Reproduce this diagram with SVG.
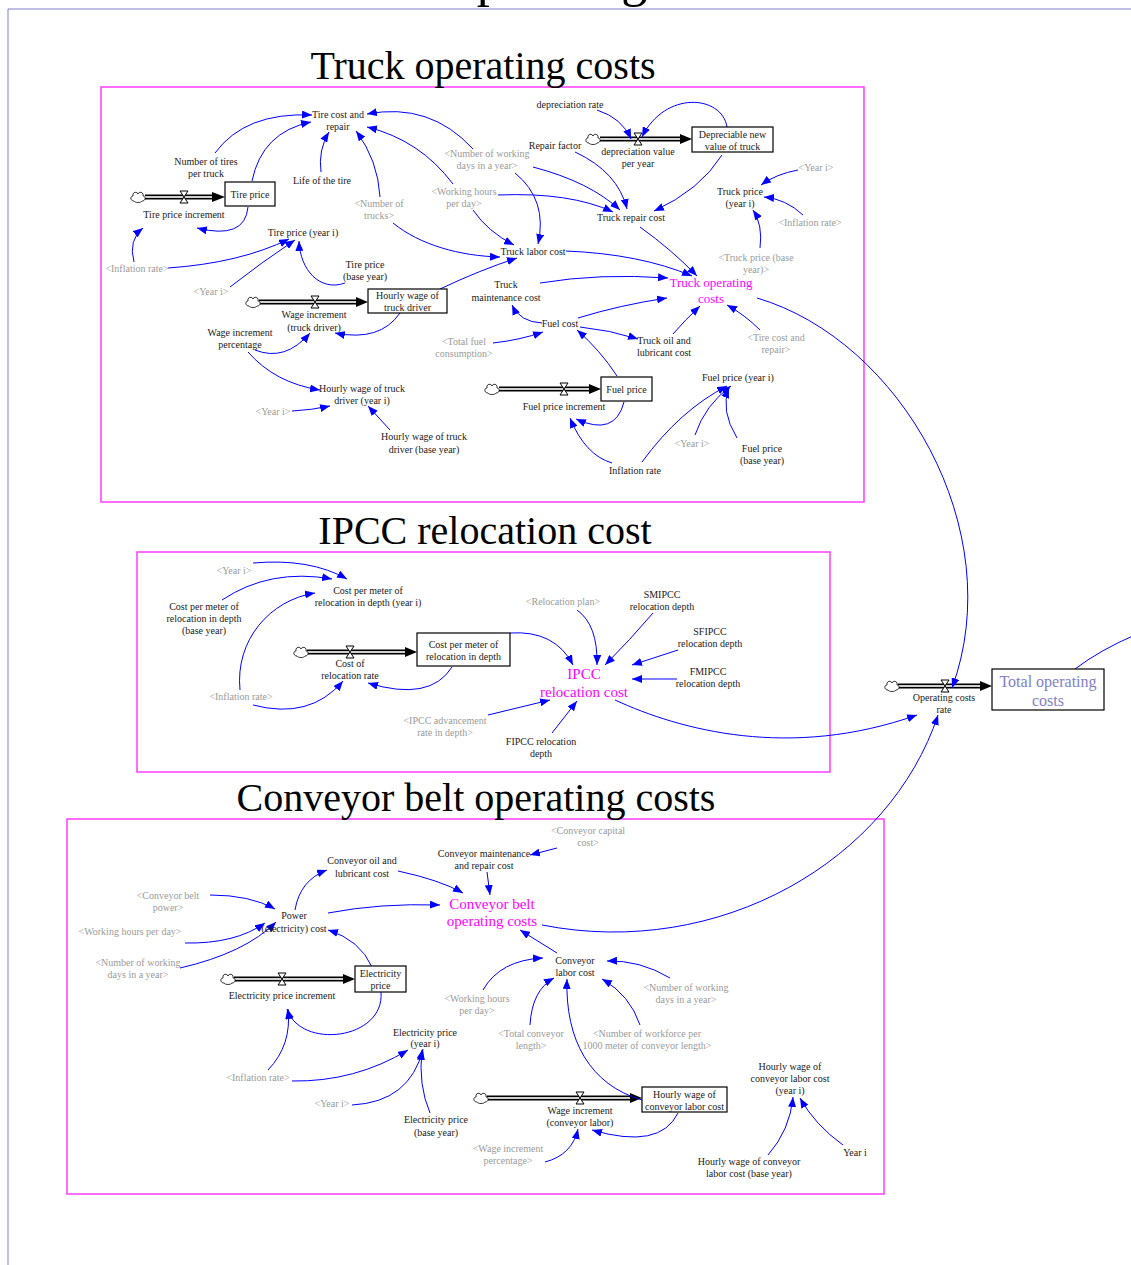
<svg xmlns="http://www.w3.org/2000/svg" xmlns:xlink="http://www.w3.org/1999/xlink" width="1131" height="1265" viewBox="0 0 1131 1265">
<style>
  text { font-family: "Liberation Serif", "Times New Roman", serif; text-anchor: middle; }
  .lbl { font-size: 10px; fill: #1a1a1a; }
  .shd { font-size: 10px; fill: #9a9a9a; }
  .key { font-size: 15px; fill: #ff00ff; }
  .ttl { font-size: 40px; fill: #000; }
  .cn { fill: none; stroke: #0000ff; stroke-width: 1; marker-end: url(#ah); }
  .frame { fill: none; stroke: #ff3cff; stroke-width: 1.5; }
  .box { fill: #fff; stroke: #000; stroke-width: 1.2; }
  .po { stroke: #000; stroke-width: 5; }
  .pi { stroke: #cfcfcf; stroke-width: 2.2; }
  .ph { fill: #000; }
</style>
<defs>
  <marker id="ah" viewBox="0 0 10 8" refX="10" refY="4" markerWidth="10" markerHeight="8" markerUnits="userSpaceOnUse" orient="auto">
    <path d="M0,0 L10,4 L0,8 Z" fill="#0000ff"/>
  </marker>
  <path id="cloud" d="M-4,4 C-8,4 -8,-1 -5,-1 C-6,-5 -1,-6 0,-3 C1,-6 6,-5 5,-1 C8,-1 8,4 4,4 C3,6 -3,6 -4,4 Z" fill="#fff" stroke="#000" stroke-width="0.8"/>
  <path id="valve" d="M-4,-6 H4 L-4,6 H4 Z" fill="#fff" stroke="#000" stroke-width="1"/>
</defs>

<rect x="0" y="0" width="1131" height="1265" fill="#fff"/>

<!-- page border and the heading that runs off the top edge -->
<g id="page">
  <path d="M8,9 H1131 M8,9 V1265" fill="none" stroke="#8080c8" stroke-width="1"/>
  <text x="549" y="-4" style="font-size:52px;fill:#000">operating</text>
</g>

<!-- section frames and titles -->
<g id="sections">
  <rect class="frame" x="101" y="87" width="763" height="415"/>
  <text class="ttl" x="483" y="79">Truck operating costs</text>
  <rect class="frame" x="137" y="552" width="693" height="220"/>
  <text class="ttl" x="485" y="544">IPCC relocation cost</text>
  <rect class="frame" x="67" y="819" width="817" height="375"/>
  <text class="ttl" x="476" y="811">Conveyor belt operating costs</text>
</g>

<!-- stock-and-flow pipes -->
<g id="flows">
  <line class="po" x1="145" y1="197" x2="213" y2="197"/><line class="pi" x1="145" y1="197" x2="213" y2="197"/><path class="ph" d="M212,192 L225,197 L212,202 Z"/>
  <line class="po" x1="600" y1="139" x2="681" y2="139"/><line class="pi" x1="600" y1="139" x2="681" y2="139"/><path class="ph" d="M680,134 L692,139 L680,144 Z"/>
  <line class="po" x1="259" y1="302" x2="357" y2="302"/><line class="pi" x1="259" y1="302" x2="357" y2="302"/><path class="ph" d="M356,297 L368,302 L356,307 Z"/>
  <line class="po" x1="499" y1="389" x2="590" y2="389"/><line class="pi" x1="499" y1="389" x2="590" y2="389"/><path class="ph" d="M589,384 L601,389 L589,394 Z"/>
  <line class="po" x1="307" y1="652" x2="406" y2="652"/><line class="pi" x1="307" y1="652" x2="406" y2="652"/><path class="ph" d="M405,647 L417,652 L405,657 Z"/>
  <line class="po" x1="898" y1="686" x2="981" y2="686"/><line class="pi" x1="898" y1="686" x2="981" y2="686"/><path class="ph" d="M980,681 L992,686 L980,691 Z"/>
  <line class="po" x1="234" y1="979" x2="344" y2="979"/><line class="pi" x1="234" y1="979" x2="344" y2="979"/><path class="ph" d="M343,974 L355,979 L343,984 Z"/>
  <line class="po" x1="487" y1="1098" x2="631" y2="1098"/><line class="pi" x1="487" y1="1098" x2="631" y2="1098"/><path class="ph" d="M630,1093 L642,1098 L630,1103 Z"/>
  <use xlink:href="#cloud" href="#cloud" x="138" y="197"/>
  <use xlink:href="#cloud" href="#cloud" x="593" y="139"/>
  <use xlink:href="#cloud" href="#cloud" x="253" y="302"/>
  <use xlink:href="#cloud" href="#cloud" x="492" y="389"/>
  <use xlink:href="#cloud" href="#cloud" x="301" y="652"/>
  <use xlink:href="#cloud" href="#cloud" x="892" y="686"/>
  <use xlink:href="#cloud" href="#cloud" x="228" y="979"/>
  <use xlink:href="#cloud" href="#cloud" x="481" y="1098"/>
</g>

<!-- causal links -->
<g id="connectors">
  <path class="cn" d="M215,153 Q245,112 312,115"/>
  <path class="cn" d="M252,181 Q262,132 311,122"/>
  <path class="cn" d="M321,172 Q318,150 329,132"/>
  <path class="cn" d="M380,197 Q378,160 356,131"/>
  <path class="cn" d="M473,149 Q430,102 367,114"/>
  <path class="cn" d="M453,184 Q420,140 367,127"/>
  <path class="cn" d="M248,207 Q245,240 197,228"/>
  <path class="cn" d="M134,262 Q128,240 143,228"/>
  <path class="cn" d="M168,268 Q240,263 289,239"/>
  <path class="cn" d="M230,287 Q262,262 295,240"/>
  <path class="cn" d="M345,283 C320,292 300,270 299,241"/>
  <path class="cn" d="M393,223 C420,245 460,256 500,257"/>
  <path class="cn" d="M515,173 Q548,200 538,244"/>
  <path class="cn" d="M473,210 Q488,232 514,245"/>
  <path class="cn" d="M533,167 Q590,182 620,210"/>
  <path class="cn" d="M498,195 Q570,192 613,212"/>
  <path class="cn" d="M575,152 Q618,172 627,209"/>
  <path class="cn" d="M597,110 Q622,118 631,139"/>
  <path class="cn" d="M727,127 C722,95 665,90 642,137"/>
  <path class="cn" d="M722,155 Q700,190 654,211"/>
  <path class="cn" d="M798,170 Q776,174 761,185"/>
  <path class="cn" d="M803,215 Q786,199 764,197"/>
  <path class="cn" d="M760,248 Q763,225 753,210"/>
  <path class="cn" d="M566,251 Q640,254 692,276"/>
  <path class="cn" d="M640,227 Q672,250 697,276"/>
  <path class="cn" d="M540,283 Q600,273 668,278"/>
  <path class="cn" d="M578,318 Q620,305 667,298"/>
  <path class="cn" d="M542,323 Q520,322 512,305"/>
  <path class="cn" d="M580,327 Q610,330 638,339"/>
  <path class="cn" d="M673,334 Q685,320 700,306"/>
  <path class="cn" d="M760,330 Q745,315 727,305"/>
  <path class="cn" d="M493,343 Q520,340 543,332"/>
  <path class="cn" d="M617,376 Q600,350 577,330"/>
  <path class="cn" d="M624,402 Q615,437 576,419"/>
  <path class="cn" d="M612,463 Q585,455 570,418"/>
  <path class="cn" d="M642,462 Q680,410 727,386"/>
  <path class="cn" d="M695,435 Q705,405 731,386"/>
  <path class="cn" d="M737,438 Q720,410 729,388"/>
  <path class="cn" d="M440,289 Q480,270 517,258"/>
  <path class="cn" d="M400,313 Q380,342 335,333"/>
  <path class="cn" d="M255,350 Q285,362 310,333"/>
  <path class="cn" d="M248,352 Q275,383 320,390"/>
  <path class="cn" d="M292,411 Q312,410 330,406"/>
  <path class="cn" d="M390,430 L368,406"/>
  <path class="cn" d="M757,298 C900,340 1010,530 952,688"/>

  <path class="cn" d="M253,563 Q310,558 347,579"/>
  <path class="cn" d="M222,600 Q270,568 332,579"/>
  <path class="cn" d="M240,690 C235,640 270,600 315,593"/>
  <path class="cn" d="M253,705 Q310,720 343,681"/>
  <path class="cn" d="M452,667 Q430,702 368,683"/>
  <path class="cn" d="M510,633 Q555,630 573,665"/>
  <path class="cn" d="M577,610 Q598,625 597,665"/>
  <path class="cn" d="M653,613 Q630,640 605,665"/>
  <path class="cn" d="M678,650 L632,665"/>
  <path class="cn" d="M677,679 L632,679"/>
  <path class="cn" d="M488,715 L550,700"/>
  <path class="cn" d="M552,733 L577,701"/>
  <path class="cn" d="M615,700 C680,730 790,760 917,715"/>

  <path class="cn" d="M557,848 L530,855"/>
  <path class="cn" d="M487,872 L490,895"/>
  <path class="cn" d="M398,871 Q440,880 463,893"/>
  <path class="cn" d="M328,913 Q380,903 440,905"/>
  <path class="cn" d="M295,910 Q300,880 327,870"/>
  <path class="cn" d="M210,895 Q250,895 275,909"/>
  <path class="cn" d="M185,943 Q235,944 265,923"/>
  <path class="cn" d="M180,968 Q245,953 276,922"/>
  <path class="cn" d="M372,967 Q360,940 328,930"/>
  <path class="cn" d="M381,992 C385,1040 300,1050 287,1009"/>
  <path class="cn" d="M268,1070 Q292,1045 288,1009"/>
  <path class="cn" d="M292,1081 Q355,1082 408,1050"/>
  <path class="cn" d="M352,1105 Q410,1102 423,1049"/>
  <path class="cn" d="M430,1113 Q418,1085 422,1050"/>
  <path class="cn" d="M557,953 L520,930"/>
  <path class="cn" d="M483,990 Q500,960 543,958"/>
  <path class="cn" d="M670,978 Q640,960 607,961"/>
  <path class="cn" d="M530,1025 Q532,990 554,978"/>
  <path class="cn" d="M640,1025 Q630,995 602,979"/>
  <path class="cn" d="M642,1100 C590,1085 565,1040 567,979"/>
  <path class="cn" d="M678,1113 Q660,1150 592,1130"/>
  <path class="cn" d="M545,1162 Q572,1155 578,1129"/>
  <path class="cn" d="M768,1155 Q790,1130 793,1097"/>
  <path class="cn" d="M843,1145 Q815,1125 800,1098"/>
  <path class="cn" d="M542,925 C720,960 890,860 938,715"/>
  <path d="M1075,669 Q1100,650 1135,635" fill="none" stroke="#0000ff" stroke-width="1"/>
</g>

<!-- truck operating costs -->
<g id="tire-cost-and-repair"><text class="lbl" x="338" y="118">Tire cost and<tspan x="338" y="130">repair</tspan></text></g>
<g id="number-of-tires"><text class="lbl" x="206" y="165">Number of tires<tspan x="206" y="177">per truck</tspan></text></g>
<g id="tire-price"><rect class="box" x="225" y="182" width="50" height="24"/><text class="lbl" x="250" y="197.5">Tire price</text></g>
<g id="tire-price-increment"><use xlink:href="#valve" href="#valve" x="184" y="197"/><text class="lbl" x="184" y="217.5">Tire price increment</text></g>
<g id="life-of-tire"><text class="lbl" x="322" y="183.5">Life of the tire</text></g>
<g id="number-of-trucks-ref"><text class="shd" x="379" y="207">&lt;Number of<tspan x="379" y="219">trucks&gt;</tspan></text></g>
<g id="tire-price-year-i"><text class="lbl" x="303" y="235.5">Tire price (year i)</text></g>
<g id="inflation-ref-1"><text class="shd" x="137" y="271.5">&lt;Inflation rate&gt;</text></g>
<g id="year-ref-1"><text class="shd" x="211" y="294.5">&lt;Year i&gt;</text></g>
<g id="tire-price-base"><text class="lbl" x="365" y="268">Tire price<tspan x="365" y="280">(base year)</tspan></text></g>
<g id="working-days-ref-1"><text class="shd" x="487" y="157">&lt;Number of working<tspan x="487" y="169">days in a year&gt;</tspan></text></g>
<g id="working-hours-ref-1"><text class="shd" x="464" y="195">&lt;Working hours<tspan x="464" y="207">per day&gt;</tspan></text></g>
<g id="depreciation-rate"><text class="lbl" x="570" y="107.5">depreciation rate</text></g>
<g id="repair-factor"><text class="lbl" x="555" y="148.5">Repair factor</text></g>
<g id="depreciation-value"><use xlink:href="#valve" href="#valve" x="638" y="139"/><text class="lbl" x="638" y="155">depreciation value<tspan x="638" y="167">per year</tspan></text></g>
<g id="depreciable-new-value"><rect class="box" x="692" y="127" width="81" height="25"/><text class="lbl" x="732.5" y="138">Depreciable new<tspan x="732.5" y="150">value of truck</tspan></text></g>
<g id="truck-repair-cost"><text class="lbl" x="631" y="220.5">Truck repair cost</text></g>
<g id="year-ref-2"><text class="shd" x="816" y="170.5">&lt;Year i&gt;</text></g>
<g id="truck-price-year-i"><text class="lbl" x="740" y="195">Truck price<tspan x="740" y="207">(year i)</tspan></text></g>
<g id="inflation-ref-2"><text class="shd" x="810" y="225.5">&lt;Inflation rate&gt;</text></g>
<g id="truck-price-base-ref"><text class="shd" x="756" y="260.5">&lt;Truck price (base<tspan x="756" y="272.5">year)&gt;</tspan></text></g>
<g id="truck-labor-cost"><text class="lbl" x="533" y="254.5">Truck labor cost</text></g>
<g id="truck-operating-costs"><text class="key" x="711" y="287" style="font-size:13px">Truck operating<tspan x="711" y="303">costs</tspan></text></g>
<g id="truck-maintenance-cost"><text class="lbl" x="506" y="288">Truck<tspan x="506" y="300.5">maintenance cost</tspan></text></g>
<g id="hourly-wage-truck"><rect class="box" x="368" y="289" width="79" height="24"/><text class="lbl" x="407.5" y="299">Hourly wage of<tspan x="407.5" y="311">truck driver</tspan></text></g>
<g id="wage-increment-truck"><use xlink:href="#valve" href="#valve" x="315" y="302"/><text class="lbl" x="314" y="318">Wage increment<tspan x="314" y="331">(truck driver)</tspan></text></g>
<g id="wage-increment-percentage"><text class="lbl" x="240" y="336">Wage increment<tspan x="240" y="348">percentage</tspan></text></g>
<g id="total-fuel-ref"><text class="shd" x="464" y="345">&lt;Total fuel<tspan x="464" y="357">consumption&gt;</tspan></text></g>
<g id="fuel-cost"><text class="lbl" x="560" y="327">Fuel cost</text></g>
<g id="truck-oil-lubricant"><text class="lbl" x="664" y="344">Truck oil and<tspan x="664" y="356">lubricant cost</tspan></text></g>
<g id="tire-cost-ref"><text class="shd" x="776" y="341">&lt;Tire cost and<tspan x="776" y="353">repair&gt;</tspan></text></g>
<g id="fuel-price-year-i"><text class="lbl" x="738" y="381">Fuel price (year i)</text></g>
<g id="fuel-price"><rect class="box" x="601" y="377" width="51" height="24"/><text class="lbl" x="626.5" y="393">Fuel price</text></g>
<g id="fuel-price-increment"><use xlink:href="#valve" href="#valve" x="564" y="389"/><text class="lbl" x="564" y="410">Fuel price increment</text></g>
<g id="hourly-wage-truck-year-i"><text class="lbl" x="362" y="392">Hourly wage of truck<tspan x="362" y="404">driver (year i)</tspan></text></g>
<g id="year-ref-3"><text class="shd" x="273" y="415">&lt;Year i&gt;</text></g>
<g id="hourly-wage-truck-base"><text class="lbl" x="424" y="440">Hourly wage of truck<tspan x="424" y="453">driver (base year)</tspan></text></g>
<g id="year-ref-4"><text class="shd" x="692" y="447">&lt;Year i&gt;</text></g>
<g id="fuel-price-base"><text class="lbl" x="762" y="451.5">Fuel price<tspan x="762" y="463.5">(base year)</tspan></text></g>
<g id="inflation-rate"><text class="lbl" x="635" y="474">Inflation rate</text></g>

<!-- IPCC relocation cost -->
<g id="year-ref-5"><text class="shd" x="234" y="574">&lt;Year i&gt;</text></g>
<g id="cost-per-meter-year-i"><text class="lbl" x="368" y="594">Cost per meter of<tspan x="368" y="606">relocation in depth (year i)</tspan></text></g>
<g id="cost-per-meter-base"><text class="lbl" x="204" y="610">Cost per meter of<tspan x="204" y="622">relocation in depth</tspan><tspan x="204" y="634">(base year)</tspan></text></g>
<g id="cost-per-meter"><rect class="box" x="417" y="633" width="93" height="33"/><text class="lbl" x="463.5" y="648">Cost per meter of<tspan x="463.5" y="660">relocation in depth</tspan></text></g>
<g id="cost-of-relocation-rate"><use xlink:href="#valve" href="#valve" x="350" y="652"/><text class="lbl" x="350" y="667">Cost of<tspan x="350" y="679">relocation rate</tspan></text></g>
<g id="inflation-ref-5"><text class="shd" x="241" y="700">&lt;Inflation rate&gt;</text></g>
<g id="relocation-plan-ref"><text class="shd" x="563" y="605">&lt;Relocation plan&gt;</text></g>
<g id="smipcc-depth"><text class="lbl" x="662" y="598">SMIPCC<tspan x="662" y="610">relocation depth</tspan></text></g>
<g id="sfipcc-depth"><text class="lbl" x="710" y="635">SFIPCC<tspan x="710" y="647">relocation depth</tspan></text></g>
<g id="fmipcc-depth"><text class="lbl" x="708" y="675">FMIPCC<tspan x="708" y="687">relocation depth</tspan></text></g>
<g id="ipcc-relocation-cost"><text class="key" x="584" y="678.5">IPCC<tspan x="584" y="696.5">relocation cost</tspan></text></g>
<g id="ipcc-advancement-ref"><text class="shd" x="445" y="723.5">&lt;IPCC advancement<tspan x="445" y="735.5">rate in depth&gt;</tspan></text></g>
<g id="fipcc-depth"><text class="lbl" x="541" y="744.5">FIPCC relocation<tspan x="541" y="756.5">depth</tspan></text></g>

<!-- total -->
<g id="operating-costs-rate"><use xlink:href="#valve" href="#valve" x="945" y="686"/><text class="lbl" x="944" y="700.5">Operating costs<tspan x="944" y="712.5">rate</tspan></text></g>
<g id="total-operating-costs"><rect class="box" x="992" y="669" width="112" height="41"/><text x="1048" y="687" style="font-size:16px;fill:#8080c8">Total operating<tspan x="1048" y="705.5">costs</tspan></text></g>

<!-- conveyor belt operating costs -->
<g id="conveyor-capital-ref"><text class="shd" x="588" y="834">&lt;Conveyor capital<tspan x="588" y="846">cost&gt;</tspan></text></g>
<g id="conveyor-maintenance"><text class="lbl" x="484" y="857">Conveyor maintenance<tspan x="484" y="869">and repair cost</tspan></text></g>
<g id="conveyor-oil-lubricant"><text class="lbl" x="362" y="864">Conveyor oil and<tspan x="362" y="876.5">lubricant cost</tspan></text></g>
<g id="conveyor-power-ref"><text class="shd" x="168" y="899">&lt;Conveyor belt<tspan x="168" y="911">power&gt;</tspan></text></g>
<g id="power-cost"><text class="lbl" x="294" y="919">Power<tspan x="294" y="931.5">(electricity) cost</tspan></text></g>
<g id="conveyor-operating-costs"><text class="key" x="492" y="908.5">Conveyor belt<tspan x="492" y="926">operating costs</tspan></text></g>
<g id="working-hours-ref-2"><text class="shd" x="130" y="935">&lt;Working hours per day&gt;</text></g>
<g id="working-days-ref-2"><text class="shd" x="138" y="965.5">&lt;Number of working<tspan x="138" y="978">days in a year&gt;</tspan></text></g>
<g id="electricity-price"><rect class="box" x="355" y="966" width="51" height="26"/><text class="lbl" x="380.5" y="977">Electricity<tspan x="380.5" y="989">price</tspan></text></g>
<g id="electricity-price-increment"><use xlink:href="#valve" href="#valve" x="282" y="979"/><text class="lbl" x="282" y="999">Electricity price increment</text></g>
<g id="conveyor-labor-cost"><text class="lbl" x="575" y="963.5">Conveyor<tspan x="575" y="975.5">labor cost</tspan></text></g>
<g id="working-hours-ref-3"><text class="shd" x="477" y="1002">&lt;Working hours<tspan x="477" y="1014">per day&gt;</tspan></text></g>
<g id="working-days-ref-3"><text class="shd" x="686" y="990.5">&lt;Number of working<tspan x="686" y="1002.5">days in a year&gt;</tspan></text></g>
<g id="total-conveyor-length-ref"><text class="shd" x="531" y="1036.5">&lt;Total conveyor<tspan x="531" y="1048.5">length&gt;</tspan></text></g>
<g id="workforce-ref"><text class="shd" x="647" y="1036.5">&lt;Number of workforce per<tspan x="647" y="1048.5">1000 meter of conveyor length&gt;</tspan></text></g>
<g id="electricity-price-year-i"><text class="lbl" x="425" y="1035.5">Electricity price<tspan x="425" y="1047">(year i)</tspan></text></g>
<g id="inflation-ref-6"><text class="shd" x="258" y="1081">&lt;Inflation rate&gt;</text></g>
<g id="year-ref-6"><text class="shd" x="332" y="1107">&lt;Year i&gt;</text></g>
<g id="electricity-price-base"><text class="lbl" x="436" y="1123">Electricity price<tspan x="436" y="1135.5">(base year)</tspan></text></g>
<g id="hourly-wage-conveyor"><rect class="box" x="642" y="1087" width="85" height="25"/><text class="lbl" x="684.5" y="1098">Hourly wage of<tspan x="684.5" y="1110">conveyor labor cost</tspan></text></g>
<g id="wage-increment-conveyor"><use xlink:href="#valve" href="#valve" x="580" y="1098"/><text class="lbl" x="580" y="1114">Wage increment<tspan x="580" y="1126">(conveyor labor)</tspan></text></g>
<g id="wage-percentage-ref"><text class="shd" x="508" y="1151.5">&lt;Wage increment<tspan x="508" y="1164">percentage&gt;</tspan></text></g>
<g id="hourly-wage-conveyor-year-i"><text class="lbl" x="790" y="1070">Hourly wage of<tspan x="790" y="1082">conveyor labor cost</tspan><tspan x="790" y="1094">(year i)</tspan></text></g>
<g id="year-i"><text class="lbl" x="855" y="1155.5">Year i</text></g>
<g id="hourly-wage-conveyor-base"><text class="lbl" x="749" y="1165">Hourly wage of conveyor<tspan x="749" y="1177">labor cost (base year)</tspan></text></g>
</svg>
